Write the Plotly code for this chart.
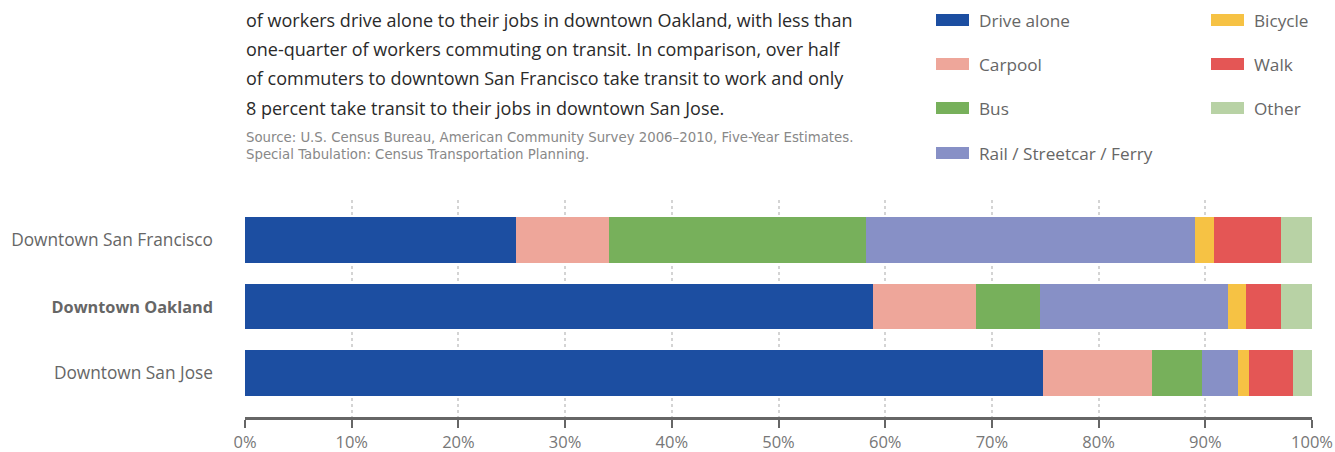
import plotly.graph_objects as go

categories = ["Downtown San Jose", "Downtown Oakland", "Downtown San Francisco"]
modes = ["Drive alone", "Carpool", "Bus", "Rail / Streetcar / Ferry", "Bicycle", "Walk", "Other"]
# values per mode, in order of categories (San Jose, Oakland, San Francisco)
drive_alone = [74.8, 58.9, 25.4]
carpool = [10.2, 9.6, 8.7]
bus = [4.7, 6.0, 24.1]
rail = [3.4, 17.6, 30.8]
bicycle = [1.0, 1.7, 1.8]
walk = [4.1, 3.3, 6.3]
other = [1.8, 2.9, 2.9]
colors = ["#1c4ea1", "#eea69a", "#77b05b", "#8790c6", "#f6c244", "#e45655", "#b8d2a5"]
tick_vals = [0, 10, 20, 30, 40, 50, 60, 70, 80, 90, 100]
tick_text = [f"{v}%" for v in tick_vals]

paragraph = [
    "of workers drive alone to their jobs in downtown Oakland, with less than",
    "one-quarter of workers commuting on transit. In comparison, over half",
    "of commuters to downtown San Francisco take transit to work and only",
    "8 percent take transit to their jobs in downtown San Jose.",
]
source = [
    "Source: U.S. Census Bureau, American Community Survey 2006–2010, Five-Year Estimates.",
    "Special Tabulation: Census Transportation Planning.",
]

series = [drive_alone, carpool, bus, rail, bicycle, walk, other]
FONT = "Open Sans"
W, H = 1335, 452
L, R, T, B = 245, 23, 200, 35
PH = H - T - B

def py(p):  # pixel y -> paper y
    return (H - B - p) / PH

def px(p):  # pixel x -> paper x
    return (p - L) / (W - L - R)

fig = go.Figure()
ypos = list(range(len(categories)))
for name, vals, col in zip(modes, series, colors):
    fig.add_trace(go.Bar(y=ypos, x=vals, name=name, orientation="h",
                         marker=dict(color=col, line=dict(width=0)),
                         width=0.69, showlegend=False))

annotations = []
shapes = []
for i, line in enumerate(paragraph):
    annotations.append(dict(text=line, xref="paper", yref="paper", x=px(244), y=py(20 + i * 29.2),
                            xanchor="left", yanchor="middle", showarrow=False,
                            font=dict(family=FONT, size=18, color="#2a2a2a")))
for i, line in enumerate(source):
    annotations.append(dict(text=line, xref="paper", yref="paper", x=px(244), y=py(138 + i * 17),
                            xanchor="left", yanchor="middle", showarrow=False,
                            font=dict(family="DejaVu Sans", size=13.3, color="#888")))

legend_pos = [(936, 20), (936, 64), (936, 108), (936, 153), (1211, 20), (1211, 64), (1211, 108)]
for name, col, (lx, ly) in zip(modes, colors, legend_pos):
    shapes.append(dict(type="rect", xref="paper", yref="paper", x0=px(lx), x1=px(lx + 33),
                       y0=py(ly - 6), y1=py(ly + 6), fillcolor=col, line=dict(width=0), layer="above"))
    annotations.append(dict(text=name, xref="paper", yref="paper", x=px(lx + 41), y=py(ly),
                            xanchor="left", yanchor="middle", showarrow=False,
                            font=dict(family=FONT, size=17.2, color="#666")))

ticktext_y = [c if c != "Downtown Oakland" else
              "<span style='font-size:16.3px'><b>Downtown Oakland</b></span>" for c in categories]

fig.update_layout(
    barmode="stack",
    width=W, height=H,
    margin=dict(l=L, r=R, t=T, b=B, pad=0),
    paper_bgcolor="white", plot_bgcolor="white",
    annotations=annotations, shapes=shapes,
    bargap=0,
    xaxis=dict(range=[0, 100], tickvals=tick_vals, ticktext=tick_text, automargin=False,
               showgrid=True, gridcolor="#d4d4d4", griddash="dot", gridwidth=2,
               showline=True, linecolor="#666", linewidth=3,
               ticks="outside", ticklen=8, tickwidth=2, tickcolor="#666",
               tickfont=dict(family=FONT, size=16.5, color="#777"), zeroline=False, fixedrange=True),
    yaxis=dict(range=[-0.66, 2.6], tickvals=ypos, ticktext=ticktext_y, showgrid=False, automargin=False,
               zeroline=False, ticks="", ticklabelstandoff=31,
               tickfont=dict(family=FONT, size=17.3, color="#666"), fixedrange=True),
)
fig.write_html("out.html", config={"displayModeBar": False},
               post_script="document.body.style.margin='0';document.body.style.overflow='hidden';")
